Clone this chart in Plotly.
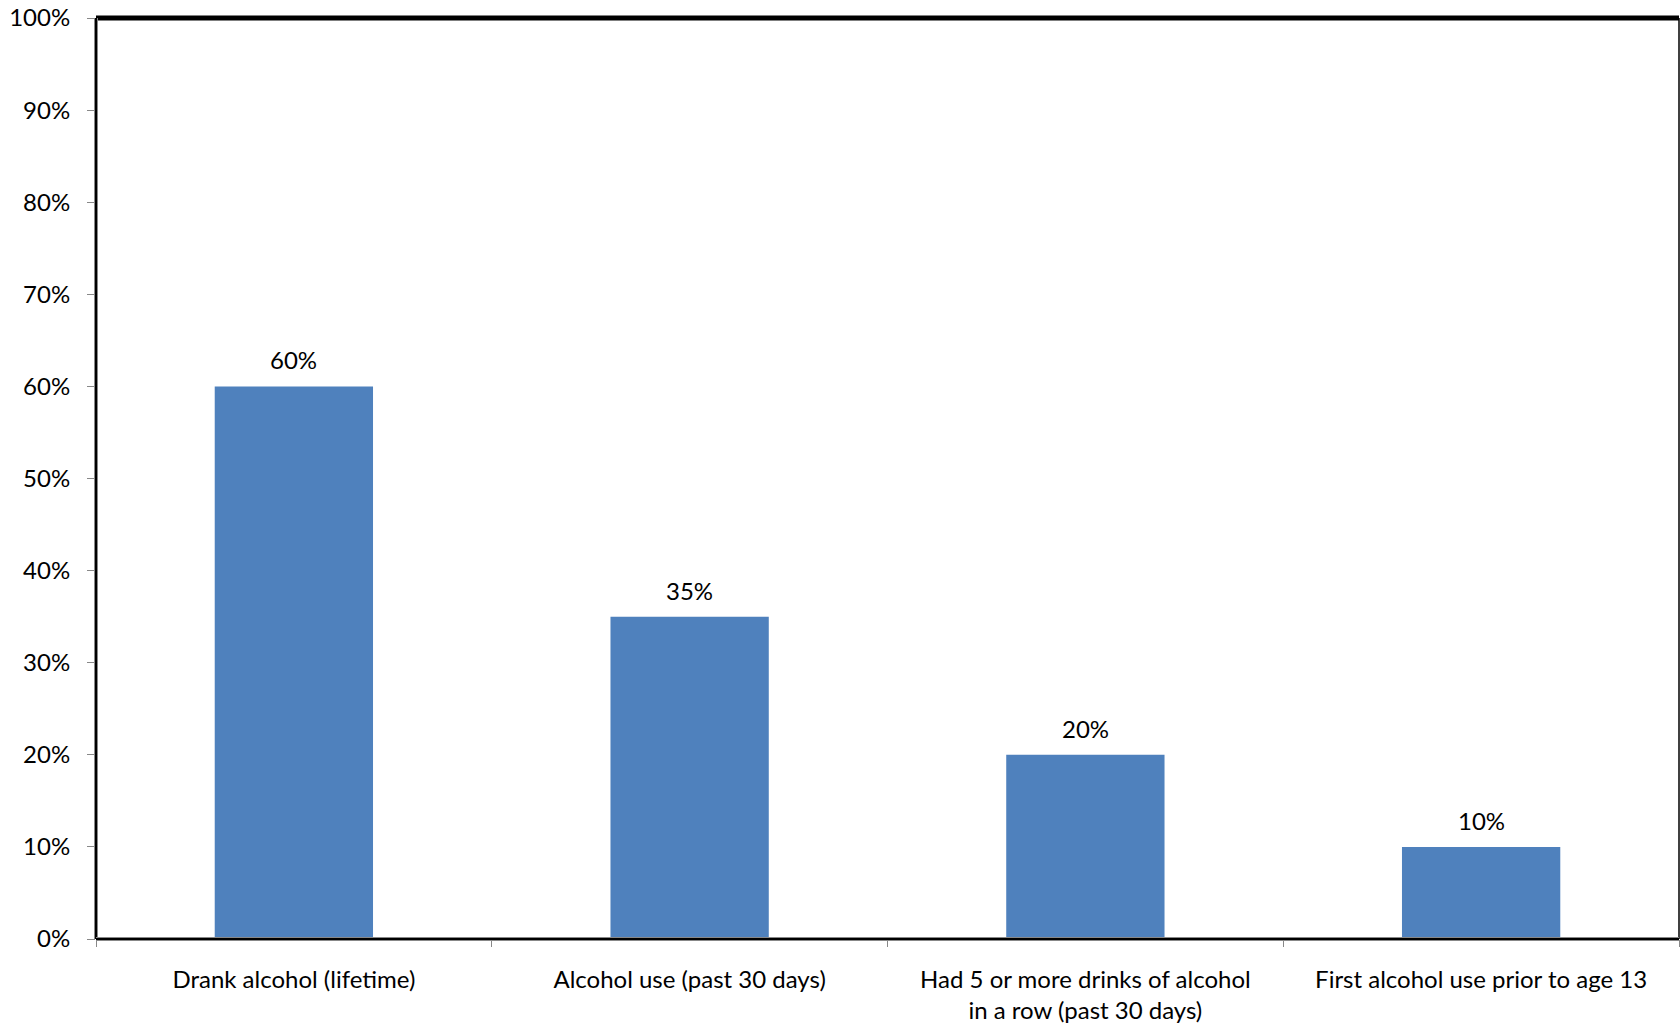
import plotly.graph_objects as go

categories = [
    "Drank alcohol (lifetime)",
    "Alcohol use (past 30 days)",
    "Had 5 or more drinks of alcohol<br>in a row (past 30 days)",
    "First alcohol use prior to age 13",
]
values = [0.60, 0.35, 0.20, 0.10]
value_labels = ["60%", "35%", "20%", "10%"]
y_tick_vals = [i / 10 for i in range(11)]
y_tick_text = [f"{i*10}%" for i in range(11)]

FONT = "Lato"
FS = 24
BAR_COLOR = "#4F81BD"

fig = go.Figure()
fig.add_trace(go.Bar(
    x=categories,
    y=values,
    marker=dict(color=BAR_COLOR, line=dict(width=0)),
    width=0.4,
    hoverinfo="skip",
))

for c, v, t in zip(categories, values, value_labels):
    fig.add_annotation(
        x=c, y=v, text=t, showarrow=False,
        yanchor="bottom", yshift=10,
        font=dict(family=FONT, size=FS, color="#000000"),
    )

fig.update_layout(
    width=1680, height=1031,
    margin=dict(l=96, r=1, t=18, b=92),
    paper_bgcolor="white", plot_bgcolor="white",
    showlegend=False,
    font=dict(family=FONT, size=FS, color="#000000"),
)

fig.update_xaxes(
    type="category",
    tickson="boundaries",
    ticks="outside", ticklen=7, tickcolor="#888888", tickwidth=1,
    ticklabelstandoff=24,
    showgrid=False, zeroline=False,
    showline=False,
    tickfont=dict(family=FONT, size=FS, color="#000000"),
)
fig.update_yaxes(
    range=[0, 1],
    tickvals=y_tick_vals, ticktext=y_tick_text,
    ticks="outside", ticklen=8, tickcolor="#888888", tickwidth=1,
    ticklabelstandoff=12,
    showgrid=False, zeroline=False, showline=False,
    tickfont=dict(family=FONT, size=FS, color="#000000"),
)

# frame: top thick, right thin, left/bottom double-line style
fig.add_shape(type="line", xref="paper", yref="paper", x0=0, x1=1, y0=1, y1=1,
              line=dict(color="#000000", width=5))
fig.add_shape(type="line", xref="paper", yref="paper", x0=1, x1=1, y0=0, y1=1,
              line=dict(color="#000000", width=1.5))
fig.add_shape(type="line", xref="paper", yref="paper", x0=0, x1=0, y0=0, y1=1,
              line=dict(color="#888888", width=4))
fig.add_shape(type="line", xref="paper", yref="paper", x0=0, x1=0, y0=0, y1=1,
              line=dict(color="#000000", width=2))
fig.add_shape(type="line", xref="paper", yref="paper", x0=0, x1=1, y0=0, y1=0,
              line=dict(color="#888888", width=4))
fig.add_shape(type="line", xref="paper", yref="paper", x0=0, x1=1, y0=0, y1=0,
              line=dict(color="#000000", width=2))

fig.write_html(
    "out.html",
    config={"displayModeBar": False},
    post_script="document.body.style.margin='0';document.body.style.overflow='hidden';",
)
